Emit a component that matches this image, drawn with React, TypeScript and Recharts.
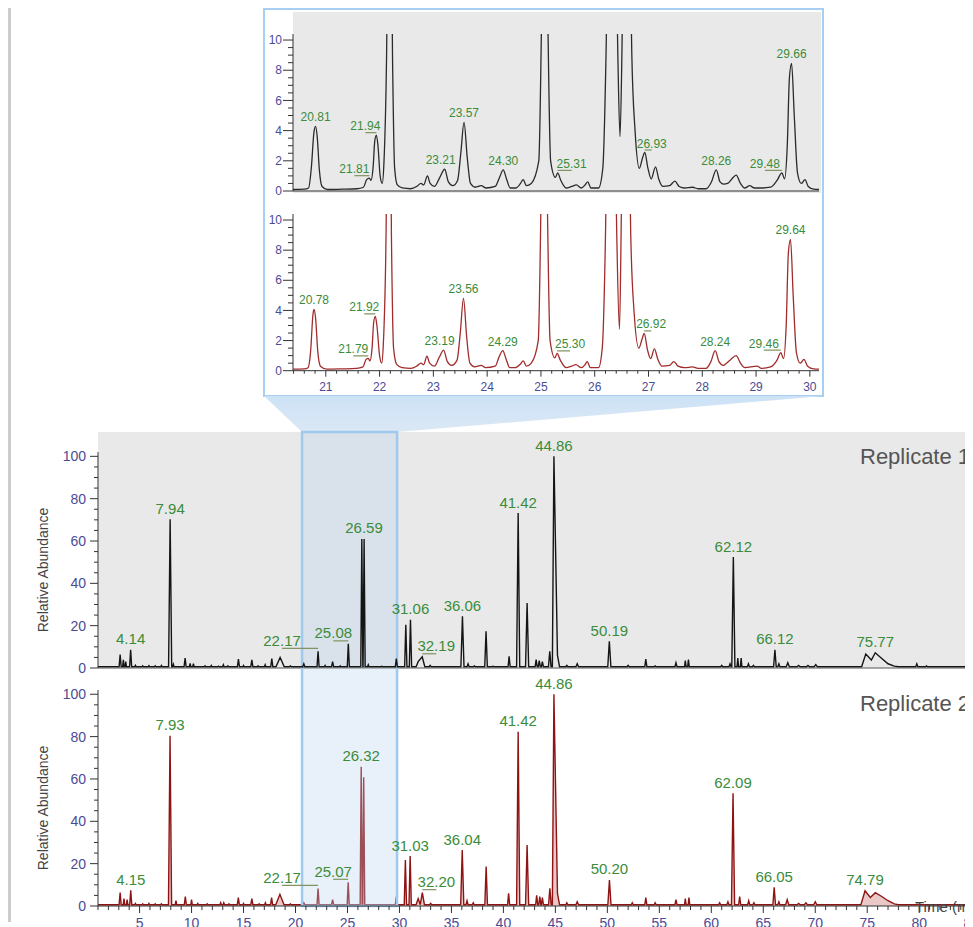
import React from 'react';
import { ComposedChart, Line, Area, Scatter, XAxis, YAxis, ReferenceArea, ReferenceLine, CartesianGrid } from 'recharts';

// ---------------- DATA ----------------
// Inset (zoom 20.4 – 30.2 min), [retention time, relative abundance]
const INSET_R1_TRACE: [number, number][] = [
  [20.39, 0.1], [20.6, 0.12], [20.68, 0.2], [20.73, 1.5], [20.78, 3.9], [20.81, 4.28], [20.84, 3.6], [20.88, 1.4], [20.93, 0.3],
  [21.03, 0.1], [21.3, 0.12], [21.58, 0.15], [21.7, 0.25], [21.76, 0.75], [21.81, 0.85], [21.84, 0.7], [21.88, 1.6], [21.91, 3.3],
  [21.94, 3.7], [21.97, 3.0], [22.01, 1.0], [22.05, 0.5], [22.08, 1.8], [22.13, 9], [22.185, 30], [22.24, 9], [22.28, 1.5],
  [22.33, 0.4], [22.42, 0.2], [22.58, 0.15], [22.69, 0.3], [22.77, 0.5], [22.82, 0.4], [22.89, 1.0], [22.94, 0.5], [23.02, 0.3],
  [23.12, 0.9], [23.21, 1.44], [23.28, 0.6], [23.36, 0.35], [23.45, 0.7], [23.51, 2.5], [23.57, 4.55], [23.63, 2.2], [23.69, 0.5],
  [23.78, 0.25], [23.89, 0.35], [23.98, 0.2], [24.15, 0.3], [24.23, 0.9], [24.3, 1.4], [24.36, 0.8], [24.43, 0.2], [24.53, 0.2],
  [24.62, 0.5], [24.67, 0.75], [24.73, 0.35], [24.82, 0.5], [24.96, 2], [25.01, 11], [25.07, 30], [25.13, 11], [25.18, 2],
  [25.27, 0.9], [25.31, 1.2], [25.37, 0.7], [25.47, 0.2], [25.57, 0.3], [25.66, 0.4], [25.75, 0.2], [25.82, 0.4], [25.87, 0.6],
  [25.93, 0.2], [26.07, 0.2], [26.15, 1.5], [26.21, 9], [26.32, 40], [26.43, 9], [26.47, 3.6], [26.505, 9], [26.59, 40],
  [26.69, 9], [26.75, 4], [26.83, 1.5], [26.89, 2.2], [26.93, 2.55], [26.99, 1.5], [27.05, 0.8], [27.13, 1.6], [27.19, 0.8],
  [27.27, 0.3], [27.39, 0.35], [27.49, 0.65], [27.57, 0.3], [27.67, 0.2], [27.82, 0.25], [27.92, 0.15], [28.07, 0.15],
  [28.17, 0.6], [28.26, 1.4], [28.33, 0.6], [28.4, 0.45], [28.47, 0.5], [28.55, 0.8], [28.63, 1.05], [28.71, 0.5], [28.79, 0.2],
  [28.88, 0.35], [28.97, 0.2], [29.12, 0.2], [29.27, 0.25], [29.39, 0.7], [29.48, 1.2], [29.53, 0.8], [29.58, 3], [29.62, 7.5],
  [29.66, 8.45], [29.71, 5], [29.77, 1.2], [29.84, 0.5], [29.91, 0.75], [29.97, 0.3], [30.07, 0.12], [30.17, 0.1],
];

const INSET_R2_TRACE: [number, number][] = [
  [20.39, 0.1], [20.6, 0.12], [20.67, 0.2], [20.72, 1.4], [20.76, 3.7], [20.78, 4.07], [20.81, 3.5], [20.85, 1.3], [20.9, 0.3],
  [21.02, 0.1], [21.3, 0.12], [21.57, 0.15], [21.69, 0.25], [21.75, 0.75], [21.79, 0.82], [21.82, 0.65], [21.86, 1.5], [21.89, 3.2],
  [21.92, 3.6], [21.95, 3.0], [22.0, 1.0], [22.04, 0.5], [22.07, 1.8], [22.12, 9], [22.17, 30], [22.22, 9], [22.26, 1.5],
  [22.32, 0.4], [22.42, 0.2], [22.58, 0.15], [22.69, 0.3], [22.77, 0.5], [22.82, 0.4], [22.88, 0.97], [22.93, 0.5], [23.02, 0.3],
  [23.11, 0.9], [23.19, 1.37], [23.26, 0.6], [23.34, 0.35], [23.44, 0.7], [23.5, 2.5], [23.56, 4.8], [23.62, 2.2], [23.68, 0.5],
  [23.77, 0.25], [23.89, 0.35], [23.97, 0.2], [24.15, 0.3], [24.22, 0.9], [24.29, 1.33], [24.35, 0.8], [24.42, 0.2], [24.52, 0.2],
  [24.62, 0.45], [24.67, 0.65], [24.73, 0.3], [24.82, 0.5], [24.95, 2], [25.0, 11], [25.06, 30], [25.12, 11], [25.17, 2],
  [25.26, 0.85], [25.3, 1.15], [25.36, 0.7], [25.47, 0.2], [25.57, 0.3], [25.65, 0.4], [25.75, 0.2], [25.82, 0.4], [25.86, 0.6],
  [25.92, 0.2], [26.07, 0.2], [26.14, 1.5], [26.2, 9], [26.3, 40], [26.41, 9], [26.46, 2.75], [26.49, 9], [26.57, 40],
  [26.67, 9], [26.73, 4], [26.82, 1.5], [26.88, 2.1], [26.92, 2.48], [26.98, 1.4], [27.04, 0.8], [27.11, 1.45], [27.17, 0.8],
  [27.25, 0.3], [27.39, 0.35], [27.47, 0.6], [27.55, 0.3], [27.67, 0.2], [27.82, 0.25], [27.92, 0.15], [28.07, 0.15],
  [28.16, 0.6], [28.24, 1.33], [28.31, 0.6], [28.39, 0.35], [28.45, 0.5], [28.53, 0.75], [28.63, 1.0], [28.71, 0.5], [28.79, 0.2],
  [29.02, 0.3], [29.1, 0.15], [29.27, 0.25], [29.39, 0.7], [29.46, 1.2], [29.51, 0.8], [29.56, 3], [29.6, 7.8], [29.64, 8.72],
  [29.69, 5], [29.75, 1.2], [29.82, 0.5], [29.89, 0.75], [29.96, 0.3], [30.07, 0.12], [30.17, 0.1],
];

// Labelled peaks in the inset: [retention time, apex abundance]
const INSET_R1_LABELS: [number, number][] = [
  [20.81, 4.28], [21.81, 0.85], [21.94, 3.7], [23.21, 1.44], [23.57, 4.55], [24.3, 1.4],
  [25.31, 1.2], [26.93, 2.55], [28.26, 1.4], [29.48, 1.2], [29.66, 8.45],
];
const INSET_R2_LABELS: [number, number][] = [
  [20.78, 4.07], [21.79, 0.82], [21.92, 3.6], [23.19, 1.37], [23.56, 4.8], [24.29, 1.33],
  [25.3, 1.15], [26.92, 2.48], [28.24, 1.33], [29.46, 1.2], [29.64, 8.72],
];

// Full chromatograms: [retention time, apex abundance, base width (min)]
const MAIN_BASELINE = 0.6;
const R1_PEAKS: [number, number, number][] = [
  [3.13, 6.3, 0.2], [3.44, 3.9, 0.14], [3.67, 3.0, 0.14], [4.14, 8.6, 0.2], [4.6, 1.3, 0.14], [5.3, 1.0, 0.14],
  [5.9, 1.1, 0.14], [6.5, 1.0, 0.14], [7.1, 1.2, 0.14], [7.94, 70.3, 0.3], [8.25, 1.8, 0.14], [9.38, 4.7, 0.2],
  [9.86, 2.2, 0.14], [10.18, 2.0, 0.14], [11.3, 1.0, 0.14], [11.9, 1.2, 0.14], [12.6, 0.9, 0.14], [13.06, 1.5, 0.14],
  [13.5, 1.0, 0.14], [14.51, 4.2, 0.2], [15.0, 1.2, 0.14], [15.8, 3.8, 0.2], [16.4, 1.0, 0.14], [17.08, 1.5, 0.14],
  [17.72, 4.5, 0.2], [18.52, 5.0, 0.8], [19.5, 1.0, 0.2], [20.8, 2.0, 0.2], [22.17, 7.9, 0.2], [22.85, 1.2, 0.14],
  [23.57, 3.0, 0.2], [24.3, 1.0, 0.14], [25.08, 11.4, 0.2], [26.38, 61, 0.2], [26.6, 61, 0.2], [27.0, 1.5, 0.14],
  [28.3, 0.8, 0.14], [29.7, 4.5, 0.2], [30.61, 20.4, 0.22], [31.06, 22.8, 0.22], [31.8, 3.0, 0.4], [32.19, 5.3, 0.5],
  [32.95, 1.2, 0.2], [36.06, 24.4, 0.3], [36.6, 2.0, 0.2], [37.2, 1.0, 0.2], [38.33, 17.4, 0.25], [39.0, 0.8, 0.2],
  [40.55, 5.5, 0.2], [41.42, 73.2, 0.3], [42.28, 30.7, 0.3], [43.15, 4.0, 0.2], [43.45, 3.5, 0.2], [43.75, 3.0, 0.2],
  [44.46, 7.9, 0.25], [44.86, 100, 0.3], [45.2, 6.0, 0.4], [46.1, 1.2, 0.2], [47.1, 2.0, 0.25], [50.19, 12.6, 0.3],
  [52.0, 1.2, 0.2], [53.7, 4.2, 0.2], [54.6, 1.0, 0.2], [56.6, 2.5, 0.2], [57.5, 3.5, 0.15], [57.8, 4.0, 0.15],
  [61.0, 1.2, 0.2], [61.8, 2.0, 0.2], [62.12, 52.4, 0.3], [62.55, 4.7, 0.15], [62.87, 4.7, 0.15], [63.57, 2.0, 0.2],
  [64.05, 1.2, 0.2], [66.12, 8.6, 0.25], [66.5, 2.0, 0.2], [67.36, 2.5, 0.3], [68.4, 1.2, 0.3], [69.3, 1.2, 0.3],
  [70.05, 1.6, 0.3], [74.86, 6.6, 0.8], [75.4, 3.8, 0.4], [75.77, 7.2, 0.5], [76.4, 4.5, 0.8], [77.0, 2.0, 0.8],
  [77.6, 0.9, 0.8], [79.77, 2.0, 0.2], [80.7, 1.0, 0.2],
];
const R2_PEAKS: [number, number, number][] = [
  [3.13, 6.3, 0.2], [3.5, 3.5, 0.14], [3.8, 3.0, 0.14], [4.15, 7.4, 0.2], [4.6, 1.2, 0.14], [5.3, 1.0, 0.14],
  [5.9, 1.2, 0.14], [6.5, 1.0, 0.14], [7.1, 1.0, 0.14], [7.93, 80.4, 0.3], [8.5, 2.5, 0.14], [9.4, 4.4, 0.2],
  [10.0, 3.0, 0.14], [10.6, 1.2, 0.14], [11.5, 1.0, 0.14], [12.8, 1.5, 0.14], [13.1, 1.5, 0.14], [13.6, 1.0, 0.14],
  [14.5, 4.0, 0.2], [15.0, 1.2, 0.14], [15.8, 3.5, 0.2], [16.5, 1.0, 0.14], [17.1, 1.5, 0.14], [17.7, 4.0, 0.2],
  [18.5, 5.5, 0.8], [19.5, 1.0, 0.2], [20.8, 1.5, 0.2], [22.17, 8.3, 0.2], [23.57, 3.0, 0.2], [25.07, 11.2, 0.2],
  [26.32, 65.8, 0.2], [26.56, 60.8, 0.2], [29.7, 4.5, 0.2], [30.57, 21.7, 0.22], [31.03, 23.6, 0.22], [31.8, 3.5, 0.4],
  [32.2, 6.3, 0.4], [33.0, 1.2, 0.2], [36.04, 26.4, 0.3], [36.5, 2.5, 0.2], [37.1, 1.5, 0.2], [38.34, 18.6, 0.25],
  [40.5, 6.0, 0.2], [41.42, 82.3, 0.3], [42.28, 28.8, 0.3], [43.2, 5.0, 0.2], [43.5, 4.5, 0.2], [43.75, 4.0, 0.2],
  [44.47, 8.3, 0.25], [44.86, 100, 0.3], [45.2, 6.0, 0.4], [46.1, 1.5, 0.2], [47.1, 2.0, 0.25], [50.2, 12.3, 0.3],
  [52.4, 1.5, 0.2], [53.7, 4.0, 0.2], [54.6, 1.5, 0.2], [56.6, 3.0, 0.2], [57.5, 3.5, 0.15], [57.85, 4.0, 0.15],
  [60.8, 1.5, 0.2], [61.6, 2.0, 0.2], [62.09, 53.2, 0.3], [62.73, 4.5, 0.2], [63.6, 2.5, 0.2], [64.1, 1.5, 0.2],
  [66.05, 8.8, 0.25], [66.5, 2.0, 0.2], [67.3, 3.0, 0.3], [68.4, 1.2, 0.3], [69.1, 1.5, 0.3], [70.0, 2.0, 0.3],
  [74.79, 7.2, 0.8], [75.3, 4.0, 0.4], [75.78, 6.3, 0.6], [76.4, 4.5, 0.8], [77.0, 2.5, 0.8], [77.6, 1.0, 0.8],
  [79.8, 0.9, 0.2],
];

const R1_LABELS: [number, number][] = [
  [4.14, 8.6], [7.94, 70.3], [22.17, 7.9], [25.08, 11.4], [26.59, 61], [31.06, 22.8], [32.19, 5.3],
  [36.06, 24.4], [41.42, 73.2], [44.86, 100], [50.19, 12.6], [62.12, 52.4], [66.12, 8.6], [75.77, 7.2],
];
const R2_LABELS: [number, number][] = [
  [4.15, 7.4], [7.93, 80.4], [22.17, 8.3], [25.07, 11.2], [26.32, 65.8], [31.03, 23.6], [32.2, 6.3],
  [36.04, 26.4], [41.42, 82.3], [44.86, 100], [50.2, 12.3], [62.09, 53.2], [66.05, 8.8], [74.79, 7.2],
];

const ZOOM_RANGE: [number, number] = [20.63, 29.77];
const MAIN_X_DOMAIN: [number, number] = [1, 87];
const INSET_X_DOMAIN: [number, number] = [20.39, 30.17];
const MAIN_Y_AXIS_TOP = 102;
const MAIN_Y_TICKS = [0, 5, 10, 15, 20, 25, 30, 35, 40, 45, 50, 55, 60, 65, 70, 75, 80, 85, 90, 95, 100];
const MAIN_Y_LABELS = [0, 20, 40, 60, 80, 100];
const MAIN_X_LABELS = [5, 10, 15, 20, 25, 30, 35, 40, 45, 50, 55, 60, 65, 70, 75, 80, 85];
const INSET_Y_TICKS = [0, 0.5, 1, 1.5, 2, 2.5, 3, 3.5, 4, 4.5, 5, 5.5, 6, 6.5, 7, 7.5, 8, 8.5, 9, 9.5, 10];
const INSET_Y_LABELS = [0, 2, 4, 6, 8, 10];
const INSET_X_LABELS = [21, 22, 23, 24, 25, 26, 27, 28, 29, 30];

// ---------------- STYLE ----------------
const FONT = '"Liberation Sans", Arial, Helvetica, sans-serif';
const TICK_COLOR = '#4b4b95';
const AXIS = '#333333';
const LABEL_COLOR = '#3a8c3a';
const LEADER = '#7f9460';
const HL_FILL = 'rgba(185,208,235,0.32)';
const HL_STROKE = '#9fc9ef';

// horizontal shift (px) of labels drawn beside their peak with a leader
const LABEL_SHIFT: Record<string, number> = {
  '21.81': -15, '21.79': -15, '21.94': -11, '21.92': -11, '23.21': -4, '23.19': -4,
  '25.31': 14, '25.30': 13, '26.93': 7, '26.92': 7, '29.48': -17, '29.46': -17,
  '22.17': -36, '25.08': -15, '25.07': -15, '32.19': 14, '32.20': 14,
};
const NO_LEADER = new Set(['23.21', '23.19']);

// ---------------- HELPERS ----------------
const toPts = (arr: [number, number][]) => arr.map(([t, v]) => ({ t, v }));

function buildTrace(peaks: [number, number, number][], base: number, domain: [number, number]) {
  const pts: { t: number; v: number }[] = [{ t: domain[0], v: base }, { t: domain[1], v: base }];
  peaks.forEach(([rt, h, w], i) => {
    pts.push({ t: rt, v: h });
    const inside = (x: number) =>
      peaks.some(([rt2, , w2], j) => j !== i && x > rt2 - w2 / 2 && x < rt2 + w2 / 2);
    const l = rt - w / 2;
    const r = rt + w / 2;
    if (!inside(l)) pts.push({ t: l, v: base });
    if (!inside(r)) pts.push({ t: r, v: base });
  });
  return pts.sort((a, b) => a.t - b.t);
}

const near = (a: number, list: number[]) => list.some((b) => Math.abs(a - b) < 1e-6);

const makeLabel = (fontSize: number, gap: number) => (p: any) => {
  const { cx, cy, payload } = p;
  if (cx == null || cy == null) return <g />;
  const text = payload.t.toFixed(2);
  const off = LABEL_SHIFT[text] ?? 0;
  const tx = cx + off;
  const ty = cy - gap;
  return (
    <g>
      <text x={tx} y={ty} textAnchor="middle" fontSize={fontSize} fontFamily={FONT} fill={LABEL_COLOR}>
        {text}
      </text>
      {off !== 0 && !NO_LEADER.has(text) && (
        <line x1={tx} x2={cx} y1={ty + 2.5} y2={ty + 2.5} stroke={LEADER} strokeWidth={1.2} />
      )}
    </g>
  );
};
const InsetLabel = makeLabel(12, 5);
const MainLabel = makeLabel(15, 5.5);

const MainYTick = (p: any) => {
  const v = p.payload.value;
  const major = near(v, MAIN_Y_LABELS);
  return (
    <g>
      <line x1={p.x - (major ? 8 : 4)} x2={p.x} y1={p.y} y2={p.y} stroke={AXIS} strokeWidth={1} />
      {major && (
        <text x={p.x - 12} y={p.y} dy="0.35em" textAnchor="end" fontSize={14} fontFamily={FONT} fill={TICK_COLOR}>
          {v}
        </text>
      )}
    </g>
  );
};
const MainXTick = (p: any) => {
  const v = p.payload.value;
  const major = near(v, MAIN_X_LABELS);
  return (
    <g>
      <line x1={p.x} x2={p.x} y1={p.y} y2={p.y + (major ? 7 : 4)} stroke={AXIS} strokeWidth={1} />
      {major && (
        <text x={p.x} y={p.y + 22} textAnchor="middle" fontSize={14} fontFamily={FONT} fill={TICK_COLOR}>
          {v}
        </text>
      )}
    </g>
  );
};
const InsetYTick = (p: any) => {
  const v = p.payload.value;
  const major = near(v, INSET_Y_LABELS);
  return (
    <g>
      <line x1={p.x - (major ? 10 : 5)} x2={p.x} y1={p.y} y2={p.y} stroke={AXIS} strokeWidth={1} />
      {major && (
        <text x={p.x - 11} y={p.y} dy="0.35em" textAnchor="end" fontSize={12} fontFamily={FONT} fill={TICK_COLOR}>
          {v}
        </text>
      )}
    </g>
  );
};
const InsetXTick = (p: any) => {
  const v = p.payload.value;
  const major = near(v, INSET_X_LABELS);
  return (
    <g>
      <line x1={p.x} x2={p.x} y1={p.y} y2={p.y + (major ? 6 : 3)} stroke={AXIS} strokeWidth={1} />
      {major && (
        <text x={p.x} y={p.y + 20} textAnchor="middle" fontSize={12} fontFamily={FONT} fill={TICK_COLOR}>
          {v}
        </text>
      )}
    </g>
  );
};

const HighlightTop = (p: any) => {
  const { x, y, width, height } = p;
  return (
    <g>
      <rect x={x} y={y} width={width} height={height} fill={HL_FILL} />
      <path d={`M${x},${y + height} V${y} H${x + width} V${y + height}`} stroke={HL_STROKE} strokeWidth={2.5} fill="none" />
    </g>
  );
};
const HighlightBottom = (p: any) => {
  const { x, y, width, height } = p;
  return (
    <g>
      <rect x={x} y={y} width={width} height={height} fill={HL_FILL} />
      <path d={`M${x},${y} V${y + height} H${x + width} V${y}`} stroke={HL_STROKE} strokeWidth={2.5} fill="none" />
    </g>
  );
};

// geometry of the main plots (page px); axes get 1px of room each
const AX = 1;
const MAIN_LEFT = 98;
const MAIN_PX_PER_MIN = 10.395;
const MAIN_W = 1000;
const MAIN_RIGHT_PX = MAIN_LEFT + (MAIN_X_DOMAIN[1] - MAIN_X_DOMAIN[0]) * MAIN_PX_PER_MIN;
const xMain = (t: number) => MAIN_LEFT + (t - MAIN_X_DOMAIN[0]) * MAIN_PX_PER_MIN;

const MAIN_X_TICKS: number[] = [];
for (let k = MAIN_X_DOMAIN[0]; k <= MAIN_X_DOMAIN[1]; k++) MAIN_X_TICKS.push(k);
const INSET_X_TICKS: number[] = [];
for (let k = 102; k <= 150; k++) INSET_X_TICKS.push(Math.round(k * 2) / 10);

const yAxisSegment = [
  { x: MAIN_X_DOMAIN[0], y: 0 },
  { x: MAIN_X_DOMAIN[0], y: MAIN_Y_AXIS_TOP },
];

export default function App() {
  const r1Trace = buildTrace(R1_PEAKS, MAIN_BASELINE, MAIN_X_DOMAIN);
  const r2Trace = buildTrace(R2_PEAKS, MAIN_BASELINE, MAIN_X_DOMAIN);
  const abs = (l: number, t: number): React.CSSProperties => ({ position: 'absolute', left: l, top: t });

  const insetMargin = (top: number, bottom: number) => ({ top, bottom: bottom - AX, left: 293 - AX, right: 973 - 819 });
  const mainMargin = (top: number, bottom: number) => ({ top, bottom: bottom - AX, left: MAIN_LEFT - AX, right: MAIN_W - MAIN_RIGHT_PX });

  const hx1 = xMain(ZOOM_RANGE[0]);
  const hx2 = xMain(ZOOM_RANGE[1]);

  return (
    <div style={{ position: 'relative', width: 965, height: 919 }}>
      <div style={{ position: 'absolute', left: -8, top: -8, width: 973, height: 927, overflow: 'hidden', background: '#fff', fontFamily: FONT }}>
        {/* left page rule */}
        <div style={{ position: 'absolute', left: 8, top: 0, width: 3, height: 922, background: '#cccccc' }} />

        {/* inset frame */}
        <div style={{ position: 'absolute', left: 263, top: 8, width: 557, height: 385, border: '2px solid #a8cff1', background: '#fff' }} />
        <div style={{ position: 'absolute', left: 293, top: 12, width: 528, height: 181, background: '#e9e9e9' }} />

        {/* connector from inset to highlighted range */}
        <svg style={abs(0, 0)} width={973} height={440}>
          <defs>
            <linearGradient id="conn" x1="0" y1="0" x2="0" y2="1">
              <stop offset="0" stopColor="#cde2f6" />
              <stop offset="1" stopColor="#dbe8f5" />
            </linearGradient>
          </defs>
          <polygon points={`264,396 824,396 ${hx2},432 ${hx1},432`} fill="url(#conn)" />
        </svg>

        {/* inset, replicate 1 */}
        <div style={abs(0, 0)}>
          <ComposedChart width={973} height={200} margin={insetMargin(34, 9)}>
            <XAxis type="number" dataKey="t" domain={INSET_X_DOMAIN} allowDataOverflow height={AX} tick={false} tickLine={false} axisLine={{ stroke: AXIS }} />
            <YAxis type="number" domain={[0, 10.4]} allowDataOverflow width={AX} ticks={INSET_Y_TICKS} interval={0} tick={InsetYTick} tickLine={false} tickSize={0} tickMargin={0} axisLine={{ stroke: AXIS }} />
            <Line data={toPts(INSET_R1_TRACE)} dataKey="v" type="monotone" stroke="#2b2b2b" strokeWidth={1.3} dot={false} isAnimationActive={false} />
            <Scatter data={toPts(INSET_R1_LABELS)} dataKey="v" shape={InsetLabel} isAnimationActive={false} />
          </ComposedChart>
        </div>

        {/* inset, replicate 2 */}
        <div style={abs(0, 200)}>
          <ComposedChart width={973} height={200} margin={insetMargin(14, 29.3)}>
            <XAxis type="number" dataKey="t" domain={INSET_X_DOMAIN} allowDataOverflow height={AX} ticks={INSET_X_TICKS} interval={0} tick={InsetXTick} tickLine={false} tickSize={0} tickMargin={0} axisLine={{ stroke: AXIS }} />
            <YAxis type="number" domain={[0, 10.4]} allowDataOverflow width={AX} ticks={INSET_Y_TICKS} interval={0} tick={InsetYTick} tickLine={false} tickSize={0} tickMargin={0} axisLine={{ stroke: AXIS }} />
            <Line data={toPts(INSET_R2_TRACE)} dataKey="v" type="monotone" stroke="#a02c2c" strokeWidth={1.3} dot={false} isAnimationActive={false} />
            <Scatter data={toPts(INSET_R2_LABELS)} dataKey="v" shape={InsetLabel} isAnimationActive={false} />
          </ComposedChart>
        </div>

        {/* replicate 1 */}
        <div style={abs(0, 420)}>
          <ComposedChart width={MAIN_W} height={262} margin={mainMargin(12, 14)}>
            <CartesianGrid fill="#e9e9e9" horizontal={false} vertical={false} />
            <XAxis type="number" dataKey="t" domain={MAIN_X_DOMAIN} allowDataOverflow height={AX} tick={false} tickLine={false} axisLine={{ stroke: '#555' }} />
            <YAxis type="number" domain={[0, 111.5]} allowDataOverflow width={AX} ticks={MAIN_Y_TICKS} interval={0} tick={MainYTick} tickLine={false} tickSize={0} tickMargin={0} axisLine={false} />
            <ReferenceLine segment={yAxisSegment} stroke={AXIS} strokeWidth={1} />
            <Line data={r1Trace} dataKey="v" type="linear" stroke="#151515" strokeWidth={1.4} dot={false} isAnimationActive={false} />
            <Scatter data={toPts(R1_LABELS)} dataKey="v" shape={MainLabel} isAnimationActive={false} />
            <ReferenceArea x1={ZOOM_RANGE[0]} x2={ZOOM_RANGE[1]} shape={HighlightTop} />
          </ComposedChart>
        </div>

        {/* replicate 2 */}
        <div style={abs(0, 668)}>
          <ComposedChart width={MAIN_W} height={259} margin={mainMargin(0, 21)}>
            <XAxis type="number" dataKey="t" domain={MAIN_X_DOMAIN} allowDataOverflow height={AX} ticks={MAIN_X_TICKS} interval={0} tick={MainXTick} tickLine={false} tickSize={0} tickMargin={0} axisLine={{ stroke: AXIS }} />
            <YAxis type="number" domain={[0, 112.4]} allowDataOverflow width={AX} ticks={MAIN_Y_TICKS} interval={0} tick={MainYTick} tickLine={false} tickSize={0} tickMargin={0} axisLine={false} />
            <ReferenceLine segment={yAxisSegment} stroke={AXIS} strokeWidth={1} />
            <Area data={r2Trace} dataKey="v" type="linear" stroke="#8e1313" strokeWidth={1.4} fill="#d99a9a" fillOpacity={0.55} dot={false} isAnimationActive={false} />
            <Scatter data={toPts(R2_LABELS)} dataKey="v" shape={MainLabel} isAnimationActive={false} />
            <ReferenceArea x1={ZOOM_RANGE[0]} x2={ZOOM_RANGE[1]} shape={HighlightBottom} />
          </ComposedChart>
        </div>

        {/* annotations */}
        <svg style={{ ...abs(0, 0), pointerEvents: 'none' }} width={973} height={927}>
          <text x={860} y={464} fontSize={22} fontFamily={FONT} fill="#555">Replicate 1</text>
          <text x={860} y={711} fontSize={22} fontFamily={FONT} fill="#555">Replicate 2</text>
          <text x={915} y={912} fontSize={15} fontFamily={FONT} fill="#444">Time (min)</text>
          <text transform="translate(48,570) rotate(-90)" textAnchor="middle" fontSize={14} fontFamily={FONT} fill="#444">Relative Abundance</text>
          <text transform="translate(48,808) rotate(-90)" textAnchor="middle" fontSize={14} fontFamily={FONT} fill="#444">Relative Abundance</text>
        </svg>
      </div>
    </div>
  );
}
